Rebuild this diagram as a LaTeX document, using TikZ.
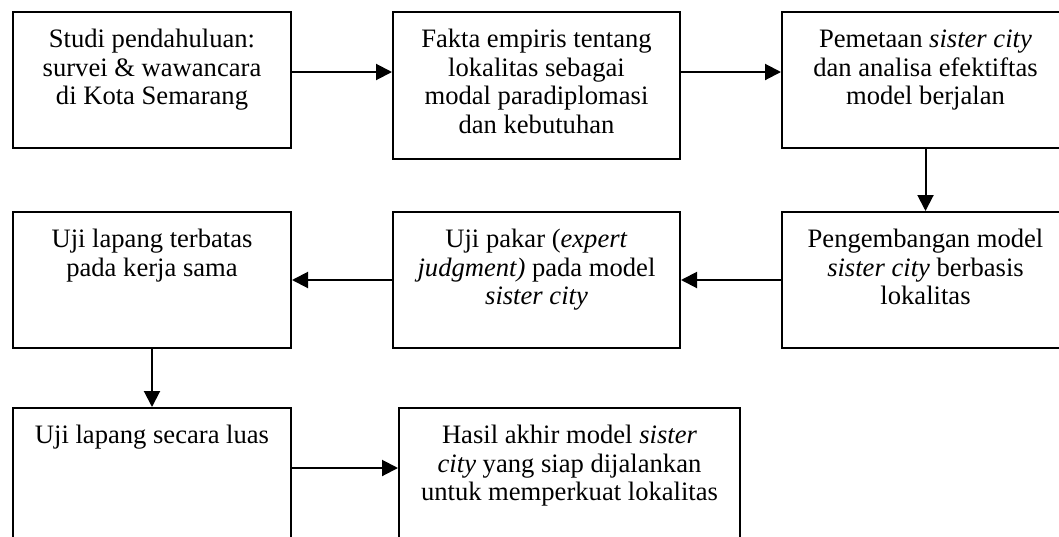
\documentclass[tikz,border=0pt]{standalone}
\usepackage{fontspec}
\setmainfont{Liberation Serif}
\usetikzlibrary{positioning,arrows.meta}
\tikzset{stepbox/.style={draw,line width=1pt,inner sep=0pt,anchor=north west,font=\fontsize{13.3pt}{14.3pt}\selectfont}}
\tikzset{flow/.style={line width=1pt,-{Triangle[length=8pt,width=8pt]}}}
\newcommand{\boxtext}[3]{\parbox[c][#2][t]{#1}{\centering\rule{0pt}{17.8pt}#3}}

\begin{document}
\begin{tikzpicture}
\useasboundingbox (0,0) rectangle (529.5pt,-268pt);
\node[stepbox](studi) at (6pt,-5.5pt) {\boxtext{139pt}{68pt}{Studi pendahuluan:\\survei \& wawancara\\di Kota Semarang}};
\node[stepbox,right=50pt of studi.north east,anchor=north west](fakta) {\boxtext{143.5pt}{73.5pt}{Fakta empiris tentang\\lokalitas sebagai\\modal paradiplomasi\\dan kebutuhan}};
\node[stepbox,right=50pt of fakta.north east,anchor=north west](pemetaan) {\boxtext{143.5pt}{68pt}{Pemetaan \textit{sister city}\\dan analisa efektiftas\\model berjalan}};
\node[stepbox,below=31pt of pemetaan.south west,anchor=north west](pengembangan) {\boxtext{143.5pt}{68pt}{Pengembangan model\\\textit{sister city} berbasis\\lokalitas}};
\node[stepbox,left=50pt of pengembangan.north west,anchor=north east](pakar) {\boxtext{143.5pt}{68pt}{Uji pakar (\textit{expert}\\\textit{judgment)} pada model\\\textit{sister city}}};
\node[stepbox,left=50pt of pakar.north west,anchor=north east](terbatas) {\boxtext{139pt}{68pt}{Uji lapang terbatas\\pada kerja sama}};
\node[stepbox,below=29pt of terbatas.south west,anchor=north west](luas) {\boxtext{139pt}{70pt}{Uji lapang secara luas}};
\node[stepbox,right=53pt of luas.north east,anchor=north west](hasil) {\boxtext{170.5pt}{70pt}{Hasil akhir model \textit{sister}\\\textit{city} yang siap dijalankan\\untuk memperkuat lokalitas}};
\draw[flow]([yshift=4pt]studi.east) -- ([yshift=4pt]studi.east -| fakta.west);
\draw[flow]([yshift=4pt]pemetaan.west -| fakta.east) -- ([yshift=4pt]pemetaan.west);
\draw[flow](pemetaan.south) -- (pengembangan.north);
\draw[flow](pengembangan.west) -- (pakar.east);
\draw[flow](pakar.west) -- (terbatas.east);
\draw[flow](terbatas.south) -- (luas.north);
\draw[flow]([yshift=5pt]luas.east) -- ([yshift=5pt]luas.east -| hasil.west);
\end{tikzpicture}
\end{document}
